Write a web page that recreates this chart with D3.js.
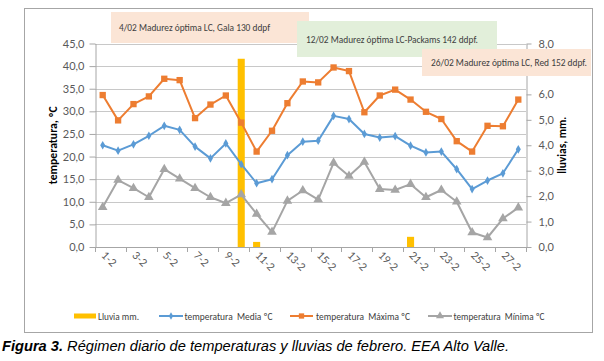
<!DOCTYPE html>
<html>
<head>
<meta charset="utf-8">
<script src="https://cdn.jsdelivr.net/npm/d3@7"></script>
<style>
  body { margin: 0; background: #fff; }
  svg { display: block; font-family: Carlito, Calibri, Lato, sans-serif; }
</style>
</head>
<body>
<div id="chart"></div>
<script>
// data
const days = ["1-2", "2-2", "3-2", "4-2", "5-2", "6-2", "7-2", "8-2", "9-2", "10-2",
  "11-2", "12-2", "13-2", "14-2", "15-2", "16-2", "17-2", "18-2", "19-2", "20-2",
  "21-2", "22-2", "23-2", "24-2", "25-2", "26-2", "27-2", "28-2"];
const media  = [22.5, 21.3, 22.7, 24.6, 26.8, 25.9, 22.2, 19.6, 22.9, 18.3, 14.1, 15.0, 20.3, 23.3,
  23.5, 29.0, 28.3, 25.0, 24.2, 24.5, 22.4, 20.9, 21.1, 17.2, 12.8, 14.7, 16.3, 21.6];
const maxima = [33.6, 28.0, 31.6, 33.3, 37.2, 36.9, 28.5, 31.5, 33.5, 27.5, 21.1, 25.7, 31.8, 36.6,
  36.4, 39.7, 38.9, 29.8, 33.5, 34.8, 32.6, 29.9, 28.3, 23.4, 21.1, 26.8, 26.7, 32.6];
const minima = [8.8, 14.8, 13.0, 11.0, 17.2, 15.1, 13.0, 11.0, 9.7, 11.6, 7.3, 3.3, 10.2, 12.5,
  10.5, 18.6, 15.7, 18.8, 12.8, 12.6, 13.9, 11.0, 12.6, 10.0, 3.2, 2.1, 6.3, 8.7];
const lluvia = [0, 0, 0, 0, 0, 0, 0, 0, 0, 7.4, 0.2, 0, 0, 0,
  0, 0, 0, 0, 0, 0, 0.4, 0, 0, 0, 0, 0, 0, 0];
const tempTicks = [0, 5, 10, 15, 20, 25, 30, 35, 40, 45];
// 7,0 sits under the third note box in the original, so it is not drawn
const rainTicks = [0, 1, 2, 3, 4, 5, 6, 8];
const notes = [
  "4/02 Madurez óptima LC, Gala 130 ddpf",
  "12/02 Madurez óptima LC-Packams 142 ddpf.",
  "26/02 Madurez óptima LC, Red 152 ddpf."
];
const legendLabels = ["Lluvia mm.", "temperatura  Media ºC", "temperatura  Máxima ºC", "temperatura  Mínima ºC"];

const W = 604, H = 361;
const plot = {left: 95, right: 526, top: 43.5, bottom: 247};
const fmt = d => d3.format(".1f")(d).replace(".", ",");

const svg = d3.select("#chart").append("svg")
  .attr("width", W).attr("height", H);

// outer chart frame
svg.append("rect")
  .attr("x", 24.5).attr("y", 8.5).attr("width", 568).attr("height", 324)
  .attr("fill", "#fff").attr("stroke", "#a6a6a6").attr("stroke-width", 1);

const x = d3.scaleBand().domain(days).range([plot.left, plot.right]);
const yT = d3.scaleLinear().domain([0, 45]).range([plot.bottom, plot.top]);
const yR = d3.scaleLinear().domain([0, 8]).range([plot.bottom, plot.top]);
const cx = d => x(d) + x.bandwidth() / 2;

// gridlines
svg.append("g").selectAll("line")
  .data(tempTicks.filter(v => v > 0))
  .enter().append("line")
    .attr("x1", plot.left).attr("x2", plot.right)
    .attr("y1", d => Math.round(yT(d)) + 0.5).attr("y2", d => Math.round(yT(d)) + 0.5)
    .attr("stroke", "#c8c8c8").attr("stroke-width", 1);

// left axis
const axL = svg.append("g")
  .attr("transform", `translate(${plot.left + 0.5},0)`)
  .call(d3.axisLeft(yT).tickValues(tempTicks).tickFormat(fmt).tickSize(6).tickPadding(5).tickSizeOuter(0));
axL.select(".domain").attr("stroke", "#a6a6a6");
axL.selectAll(".tick line").attr("stroke", "#a6a6a6");
axL.selectAll("text").attr("fill", "#595959").attr("font-size", 11).attr("font-family", "Lato, sans-serif");

// right axis
const axR = svg.append("g")
  .attr("transform", `translate(${plot.right + 0.5},0)`)
  .call(d3.axisRight(yR).tickValues(rainTicks).tickFormat(fmt).tickSize(5).tickPadding(7).tickSizeOuter(0));
axR.select(".domain").attr("stroke", "#a6a6a6");
axR.selectAll(".tick line").attr("stroke", "#a6a6a6");
axR.selectAll("text").attr("fill", "#595959").attr("font-size", 11).attr("font-family", "Lato, sans-serif");

// bottom axis: line, tick every two days, rotated labels on odd days
svg.append("line")
  .attr("x1", plot.left).attr("x2", plot.right + 1)
  .attr("y1", plot.bottom + 0.5).attr("y2", plot.bottom + 0.5)
  .attr("stroke", "#a6a6a6");
svg.append("g").selectAll("line")
  .data(days.filter((d, i) => i % 2 === 0))
  .enter().append("line")
    .attr("x1", d => Math.round(x(d)) + 0.5).attr("x2", d => Math.round(x(d)) + 0.5)
    .attr("y1", plot.bottom).attr("y2", plot.bottom + 5)
    .attr("stroke", "#a6a6a6");
svg.append("line")
  .attr("x1", plot.right + 0.5).attr("x2", plot.right + 0.5)
  .attr("y1", plot.bottom).attr("y2", plot.bottom + 5)
  .attr("stroke", "#a6a6a6");
svg.append("g").selectAll("text")
  .data(days.filter((d, i) => i % 2 === 0))
  .enter().append("text")
    .attr("transform", d => `translate(${cx(d) - 2},${plot.bottom + 9}) rotate(45)`)
    .attr("fill", "#595959")
    .attr("font-size", 10.5)
    .attr("font-family", "Lato, sans-serif")
    .text(d => d);

// rain bars
svg.append("g").selectAll("rect")
  .data(days.map((d, i) => ({day: d, v: lluvia[i]})).filter(d => d.v > 0))
  .enter().append("rect")
    .attr("x", d => cx(d.day) - x.bandwidth() * 0.23)
    .attr("width", x.bandwidth() * 0.46)
    .attr("y", d => yR(d.v))
    .attr("height", d => yR(0) - yR(d.v))
    .attr("fill", "#ffc000");

// temperature series
const series = [
  {values: minima, color: "#a5a5a5", marker: d3.symbolTriangle, size: 40},
  {values: media, color: "#5b9bd5", marker: d3.symbolDiamond, size: 22},
  {values: maxima, color: "#ed7d31", marker: d3.symbolSquare, size: 40}
];
const line = d3.line().x((v, i) => cx(days[i])).y(v => yT(v));
series.forEach(s => {
  svg.append("path")
    .datum(s.values)
    .attr("d", line)
    .attr("fill", "none")
    .attr("stroke", s.color)
    .attr("stroke-width", 2)
    .attr("stroke-linejoin", "round");
  svg.append("g").selectAll("path")
    .data(s.values)
    .enter().append("path")
      .attr("transform", (v, i) => `translate(${cx(days[i])},${yT(v)})`)
      .attr("d", d3.symbol().type(s.marker).size(s.size))
      .attr("fill", s.color);
});

// axis titles
svg.append("text")
  .attr("transform", `translate(57,${(plot.top + plot.bottom) / 2}) rotate(-90)`)
  .attr("text-anchor", "middle")
  .attr("font-weight", "bold").attr("font-size", 11.5)
  .attr("textLength", 78).attr("lengthAdjust", "spacingAndGlyphs")
  .text("temperatura, ºC");
svg.append("text")
  .attr("transform", `translate(566,${(plot.top + plot.bottom) / 2}) rotate(-90)`)
  .attr("text-anchor", "middle")
  .attr("font-weight", "bold").attr("font-size", 11.5)
  .attr("textLength", 57).attr("lengthAdjust", "spacingAndGlyphs")
  .text("lluvias, mm.");

// annotation boxes
const boxes = [
  {x: 111, y: 12, w: 198, h: 31, fill: "#fbe5d6", tx: 119, tw: 151},
  {x: 297, y: 21, w: 200, h: 36, fill: "#e2efda", tx: 306, tw: 172},
  {x: 422, y: 49, w: 169, h: 27, fill: "#fbe5d6", tx: 431, tw: 156}
];
boxes.forEach((b, i) => {
  svg.append("rect")
    .attr("x", b.x).attr("y", b.y).attr("width", b.w).attr("height", b.h)
    .attr("fill", b.fill);
  svg.append("text")
    .attr("x", b.tx).attr("y", b.y + b.h / 2)
    .attr("dy", "0.35em")
    .attr("font-size", 11).attr("fill", "#404040")
    .attr("textLength", b.tw).attr("lengthAdjust", "spacingAndGlyphs")
    .text(notes[i]);
});

// legend
const legY = 316;
const leg = [
  {x0: 74, x1: 96, tx: 98, tw: 41},
  {x0: 159, x1: 183, tx: 184.5, tw: 88},
  {x0: 290, x1: 313, tx: 316, tw: 94},
  {x0: 428, x1: 452, tx: 453.5, tw: 91}
];
svg.append("rect")
  .attr("x", leg[0].x0).attr("y", legY - 2.5).attr("width", leg[0].x1 - leg[0].x0).attr("height", 5)
  .attr("fill", "#ffc000");
[series[1], series[2], series[0]].forEach((s, i) => {
  const l = leg[i + 1];
  svg.append("line")
    .attr("x1", l.x0).attr("x2", l.x1).attr("y1", legY).attr("y2", legY)
    .attr("stroke", s.color).attr("stroke-width", 2);
  svg.append("path")
    .attr("transform", `translate(${(l.x0 + l.x1) / 2},${legY})`)
    .attr("d", d3.symbol().type(s.marker).size(s.size * 0.7))
    .attr("fill", s.color);
});
leg.forEach((l, i) => {
  svg.append("text")
    .attr("x", l.tx).attr("y", legY).attr("dy", "0.35em")
    .attr("font-size", 10).attr("fill", "#404040")
    .attr("textLength", l.tw).attr("lengthAdjust", "spacingAndGlyphs")
    .attr("xml:space", "preserve")
    .text(legendLabels[i]);
});

// caption
const cap = svg.append("text")
  .attr("x", 2).attr("y", 351)
  .attr("font-family", "'Liberation Sans', Arial, sans-serif")
  .attr("font-size", 15.5).attr("font-style", "italic")
  .attr("textLength", 507).attr("lengthAdjust", "spacingAndGlyphs");
cap.append("tspan").attr("font-weight", "bold").text("Figura 3.");
cap.append("tspan").text(" Régimen diario de temperaturas y lluvias de febrero. EEA Alto Valle.");
</script>
</body>
</html>
